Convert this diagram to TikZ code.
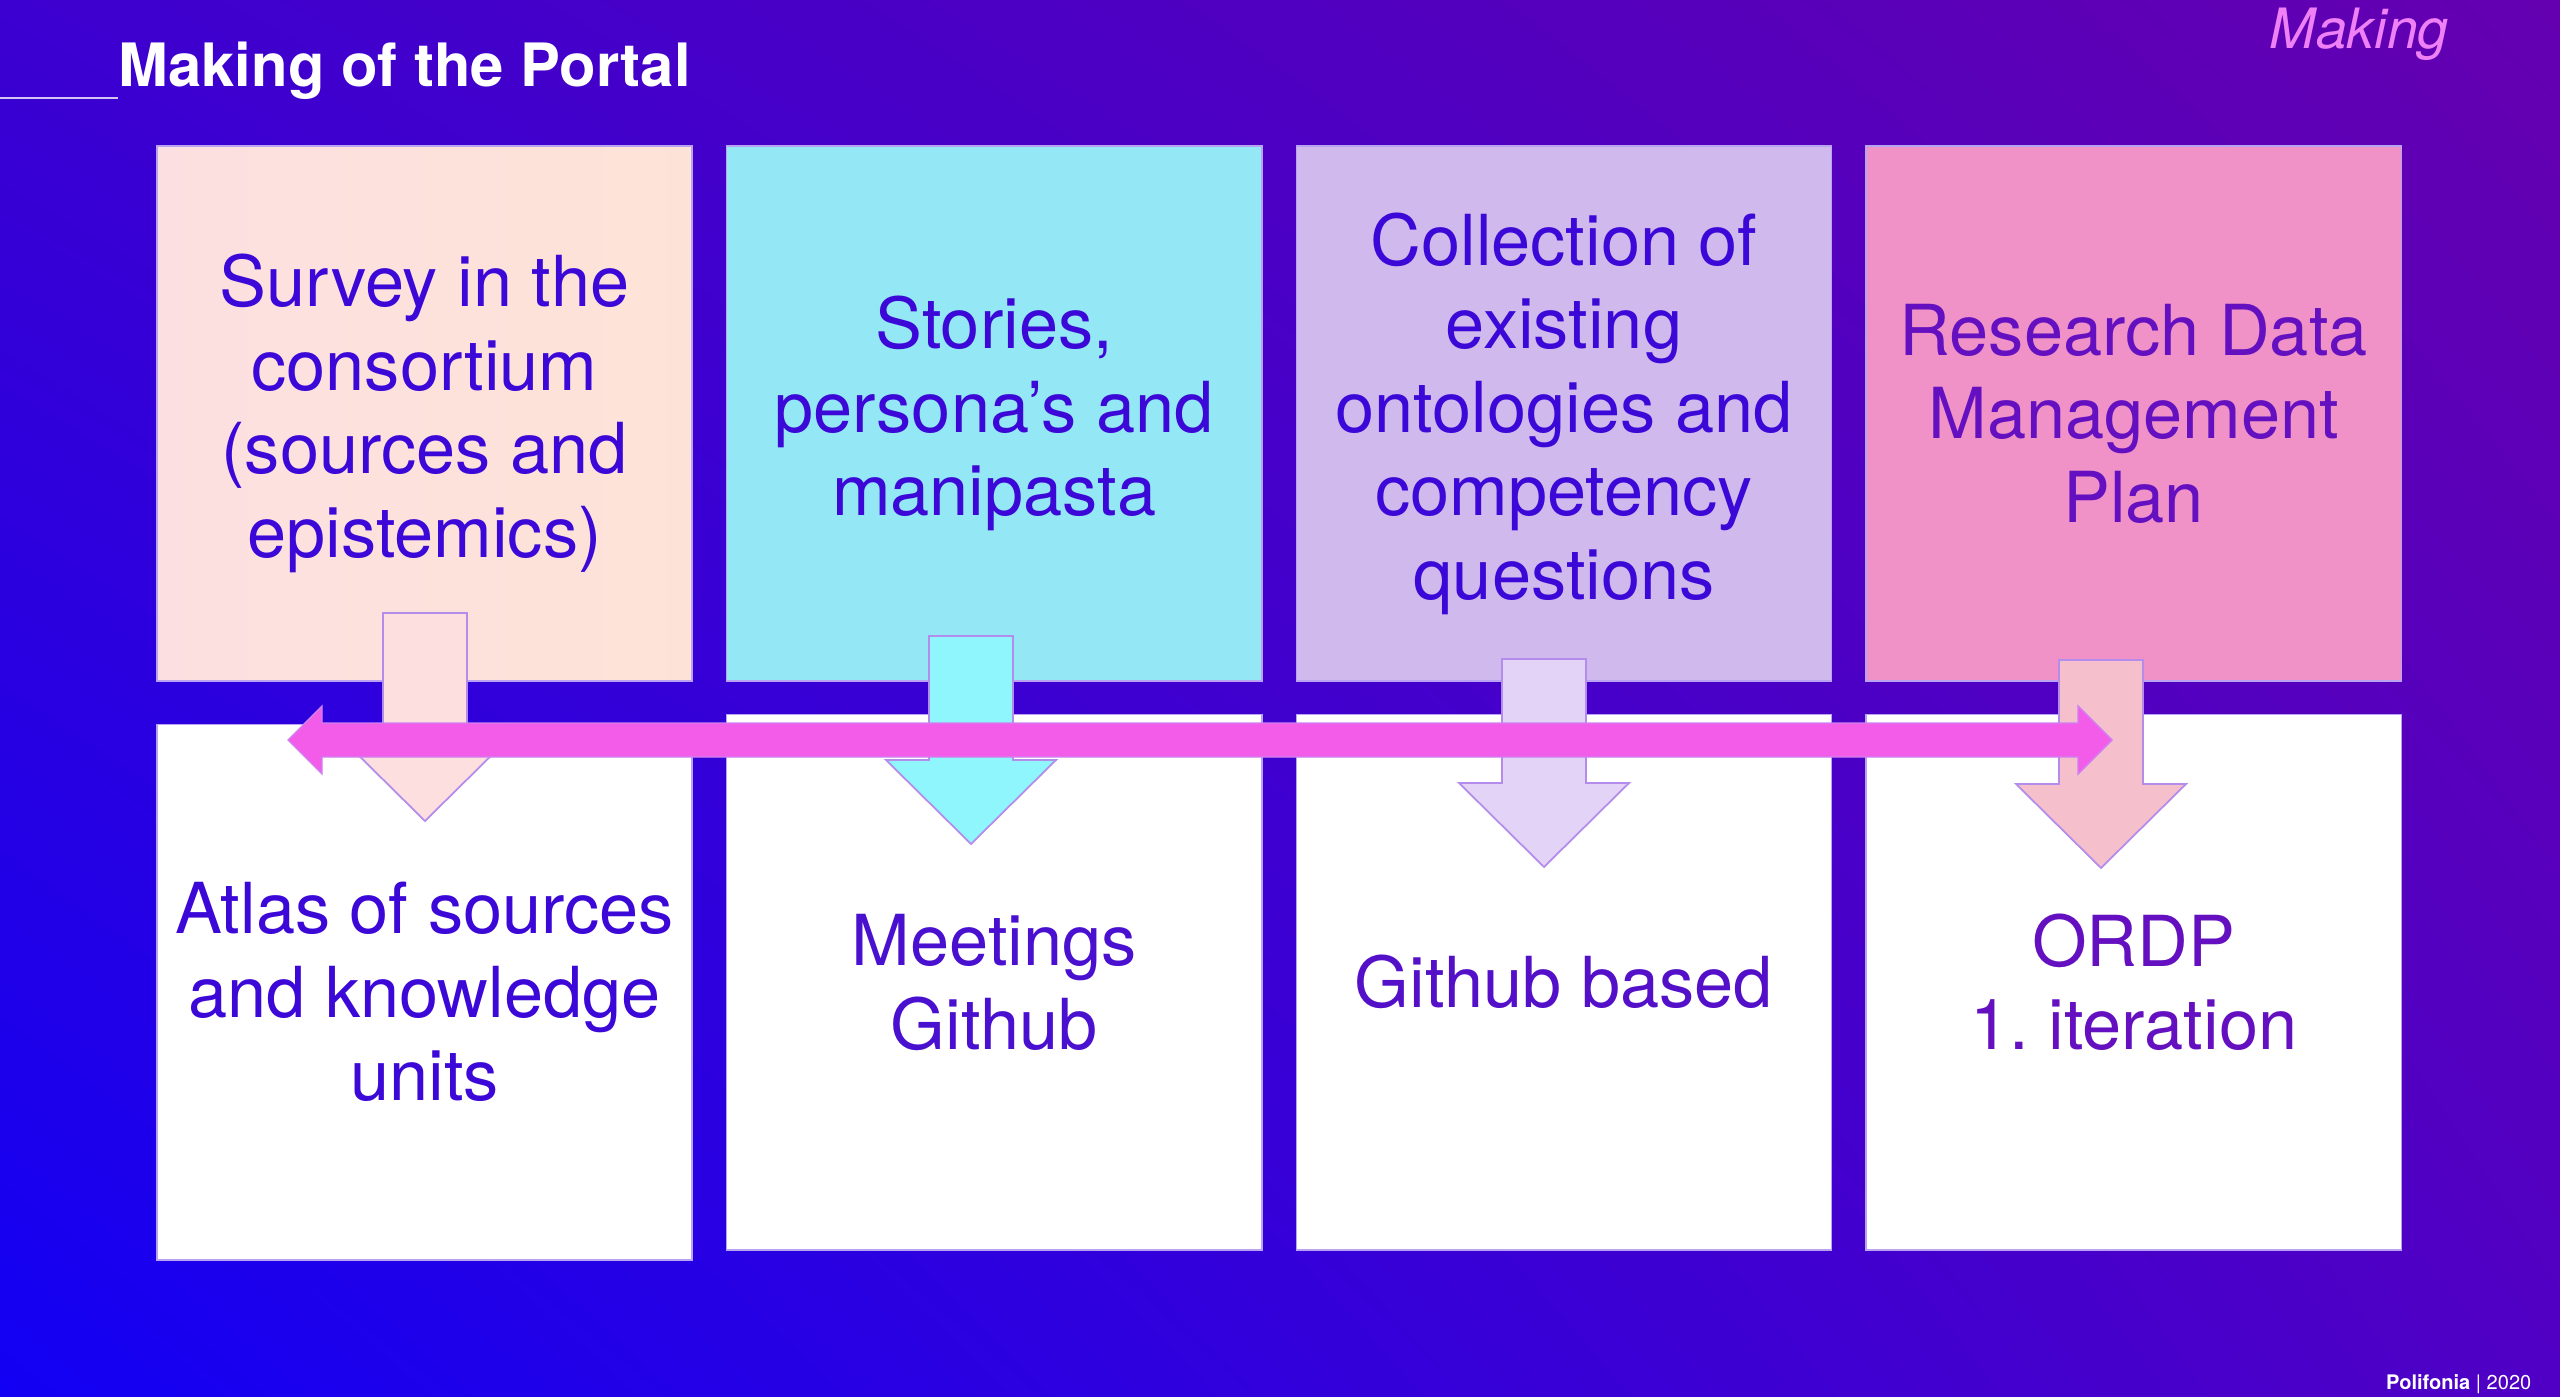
\documentclass[tikz,border=0pt]{standalone}
\usepackage{fontspec}
\setmainfont{TeX Gyre Heros}
\usetikzlibrary{positioning,shadings}
\definecolor{bglowleft}{HTML}{1200F4}
\definecolor{bglowright}{HTML}{5000C4}
\definecolor{bgupleft}{HTML}{3C00D0}
\definecolor{bgupright}{HTML}{6400B0}
\definecolor{boxedge}{HTML}{B9A2F2}
\definecolor{surveyleft}{HTML}{FCE0E1}
\definecolor{surveyright}{HTML}{FDE3D7}
\definecolor{storiescyan}{HTML}{94E8F5}
\definecolor{collectlav}{HTML}{D0B9EC}
\definecolor{rdmppink}{HTML}{F092C8}
\definecolor{arrpeach}{HTML}{FDDFE0}
\definecolor{arrcyan}{HTML}{90F6FD}
\definecolor{arrlav}{HTML}{E3D3F6}
\definecolor{arrpink}{HTML}{F5BFCB}
\definecolor{arredge}{HTML}{B48CEC}
\definecolor{sweeppink}{HTML}{F25CE9}
\definecolor{sweepedge}{HTML}{D080F0}
\definecolor{textblue}{HTML}{3C08D8}
\definecolor{textindigo}{HTML}{4A10D0}
\definecolor{textpurple}{HTML}{5410C8}
\definecolor{textviolet}{HTML}{6410C0}
\definecolor{makingpink}{HTML}{F080F5}
\definecolor{ruleline}{HTML}{D4C4F4}

\begin{document}
\begin{tikzpicture}[x=0.01cm,y=-0.01cm,
  topbox/.style={draw=boxedge,line width=0.4pt,minimum width=5.35cm,
                 minimum height=5.35cm,inner sep=0pt,align=center,
                 font=\fontsize{20}{23.75}\selectfont},
  lowbox/.style={topbox,fill=white},
  dnarr/.style={draw=arredge,line width=0.5pt},
  sweep/.style={draw=sweepedge,line width=0.4pt,fill=sweeppink}]
\useasboundingbox (0,0) rectangle (2560,1397);
\shade[lower left=bglowleft,lower right=bglowright,
       upper left=bgupleft,upper right=bgupright] (0,0) rectangle (2560,1397);
% Title and corner labels
\draw[ruleline,line width=0.85pt] (0,98) -- (118,98);
\node[anchor=base west,inner sep=0pt,text=white,
      font=\fontsize{17}{20}\selectfont\bfseries] (title) at (118,87)
  {Making of the Portal};
\node[anchor=base west,inner sep=0pt,text=makingpink,
      font=\fontsize{15.8}{19}\selectfont\itshape] (tag) at (2269,49) {Making};
\node[anchor=base east,inner sep=0pt,text=white,
      font=\fontsize{5.7}{7}\selectfont] (footer) at (2532,1389)
  {\textbf{Polifonia} | 2020};
% Upper row
\node[topbox,left color=surveyleft,right color=surveyright,text=textblue]
  (survey) at (424.5,413.5)
  {Survey in the\\consortium\\(sources and\\epistemics)};
\node[topbox,fill=storiescyan,text=textblue,right=0.33cm of survey] (stories)
  {Stories,\\persona’s and\\manipasta};
\node[topbox,fill=collectlav,text=textblue,right=0.33cm of stories] (collect)
  {Collection of\\existing\\ontologies and\\competency\\questions};
\node[topbox,fill=rdmppink,text=textviolet,right=0.33cm of collect] (rdmp)
  {Research Data\\Management\\Plan};
% Lower row
\node[lowbox,text=textblue,below=0.42cm of survey] (atlas)
  {Atlas of sources\\and knowledge\\units};
\node[lowbox,text=textindigo,below=0.32cm of stories] (meetings)
  {Meetings\\Github};
\node[lowbox,text=textpurple,below=0.32cm of collect] (github)
  {Github based};
\node[lowbox,text=textviolet,below=0.32cm of rdmp] (ordp)
  {ORDP\\1.\ iteration};
% Down arrows
\draw[dnarr,fill=arrpeach] (383,613) -- ++(84,0) -- ++(0,124) -- ++(43,0)
  -- ++(-85,84) -- ++(-85,-84) -- ++(43,0) -- cycle;
\draw[dnarr,fill=arrcyan] (929,636) -- ++(84,0) -- ++(0,124) -- ++(43,0)
  -- ++(-85,84) -- ++(-85,-84) -- ++(43,0) -- cycle;
\draw[dnarr,fill=arrlav] (1502,659) -- ++(84,0) -- ++(0,124) -- ++(43,0)
  -- ++(-85,84) -- ++(-85,-84) -- ++(43,0) -- cycle;
\draw[dnarr,fill=arrpink] (2059,660) -- ++(84,0) -- ++(0,124) -- ++(43,0)
  -- ++(-85,84) -- ++(-85,-84) -- ++(43,0) -- cycle;
% Two-way arrow across the row
\draw[sweep] (288,740) -- (322,706) -- (322,723) -- (2078,723) -- (2078,706)
  -- (2112,740) -- (2078,774) -- (2078,757) -- (322,757) -- (322,774) -- cycle;
\end{tikzpicture}
\end{document}
